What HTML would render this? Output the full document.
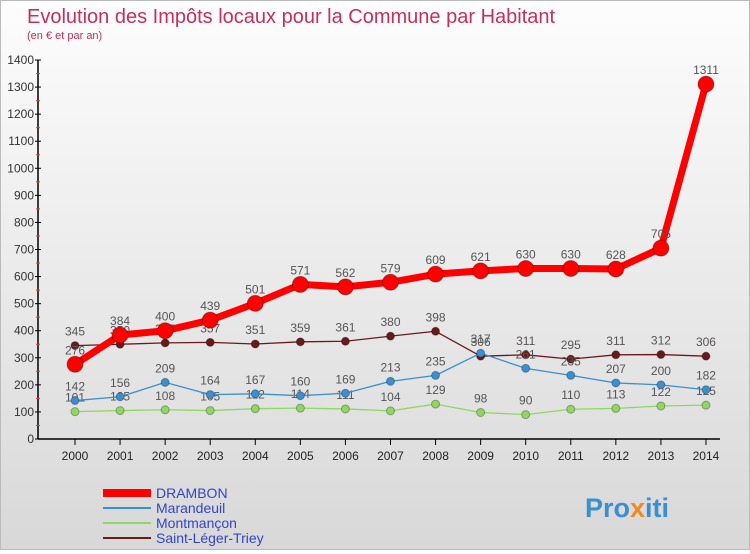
<!DOCTYPE html>
<html><head><meta charset="utf-8"><style>
body{margin:0;width:750px;height:550px;overflow:hidden;font-family:"Liberation Sans",sans-serif}
#wrap{position:relative;width:748px;height:548px;border:1px solid #bbb;background:linear-gradient(#fdfdfd,#d8d8d8)}
</style></head><body>
<div id="wrap">
<svg id="chart" width="748" height="548">
<text x="26" y="22" font-size="20" fill="#c8305a">Evolution des Impôts locaux pour la Commune par Habitant</text>
<text x="26" y="38" font-size="11" fill="#c0305a">(en € et par an)</text>
<g id="axes"></g><g id="series"></g><g id="legend"></g>
<text x="584" y="516" font-size="27" font-weight="bold" fill="#3a8fd0">Pro<tspan fill="#f08a20">x</tspan>iti</text>
</svg></div>
<script>
const years=[2000,2001,2002,2003,2004,2005,2006,2007,2008,2009,2010,2011,2012,2013,2014];
const drambon=[276,384,400,439,501,571,562,579,609,621,630,630,628,705,1311];
const marandeuil=[142,156,209,164,167,160,169,213,235,317,261,235,207,200,182];
const montmancon=[101,105,108,105,112,114,111,104,129,98,90,110,113,122,125];
const saintLeger=[345,350,355,357,351,359,361,380,398,306,311,295,311,312,306];
const yTicks=[0,100,200,300,400,500,600,700,800,900,1000,1100,1200,1300,1400];
const NS="http://www.w3.org/2000/svg";
const X=i=>74+i*45.07, Y=v=>438-v*0.2707;
function mk(t,a,p){const e=document.createElementNS(NS,t);for(const k in a)e.setAttribute(k,a[k]);p.appendChild(e);return e;}
const ax=document.getElementById('axes');
let l=mk('line',{x1:37,y1:Y(0),x2:37,y2:Y(1400),stroke:'#000','stroke-width':1.5},ax);


l=mk('line',{x1:37,y1:Y(0),x2:X(14)+14,y2:Y(0),stroke:'#000','stroke-width':1.5},ax);


yTicks.forEach(v=>{
 mk('line',{x1:34,y1:Y(v),x2:40,y2:Y(v),stroke:'#000'},ax);
 if(v<1400)mk('line',{x1:35,y1:Y(v+50),x2:39,y2:Y(v+50),stroke:'#e33'},ax);
 const t=mk('text',{x:33,y:Y(v)+4,'font-size':12,'text-anchor':'end',fill:'#333'},ax);t.textContent=v;
 
 
});
years.forEach((y,i)=>{
 mk('line',{x1:X(i),y1:Y(0),x2:X(i),y2:Y(0)+6,stroke:'#000'},ax);
 const t=mk('text',{x:X(i),y:Y(0)+21,'font-size':12,'text-anchor':'middle',fill:'#222'},ax);t.textContent=y;
 
 
});
const sg=document.getElementById('series');
const defs=[
 [saintLeger,'#6b1a1a',1.3,4,'saint-leger'],
 [montmancon,'#8fd860',1.3,4,'montmancon'],
 [marandeuil,'#3a8fd0',1.3,4,'marandeuil'],
 [drambon,'#f00',7,8,'drambon']];
defs.forEach(([d,c,w,r,n])=>{
 const g=mk('g',{},sg);
 
 
 const pl=mk('polyline',{points:d.map((v,i)=>X(i)+','+Y(v)).join(' '),fill:'none',stroke:c,'stroke-width':w,'stroke-linejoin':'round'},g);
 
 
 d.forEach((v,i)=>{
  const p=mk('circle',{cx:X(i),cy:Y(v),r:r,fill:c,stroke:'rgba(0,0,0,0.3)'},g);
  
  
  const t=mk('text',{x:X(i),y:Y(v)-10,'font-size':12,'text-anchor':'middle',fill:'#555'},g);t.textContent=v;
  
  
 });
});
const lg=document.getElementById('legend');
[['DRAMBON','#f00',8],['Marandeuil','#3a8fd0',2],['Montmançon','#8fd860',2],['Saint-Léger-Triey','#6b1a1a',2]].forEach(([n,c,w],i)=>{
 const y=492+i*15;
 const g=mk('g',{},lg);
 
 
 mk('line',{x1:102,y1:y,x2:150,y2:y,stroke:c,'stroke-width':w},g);
 const t=mk('text',{x:155,y:y+5,'font-size':14,fill:'#3344cc'},g);t.textContent=n;
});
</script>
</body></html>
